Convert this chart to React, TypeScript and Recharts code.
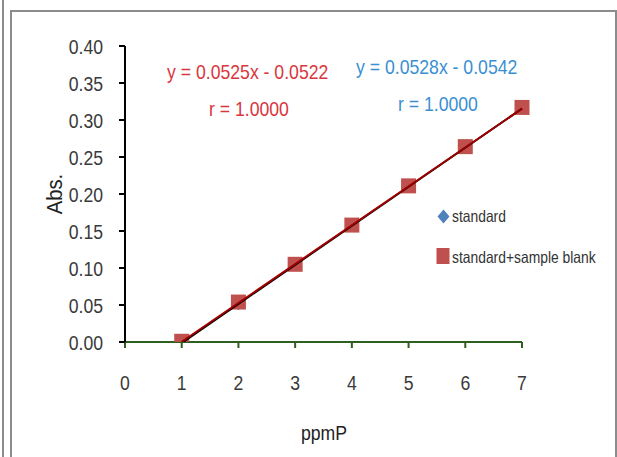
import { ScatterChart, Scatter, XAxis, YAxis } from "recharts";

const concentrations = [1, 2, 3, 4, 5, 6, 7];
const standardAbs = [0.0, 0.051, 0.104, 0.157, 0.21, 0.263, 0.315];
const blankAbs = [0.001, 0.054, 0.105, 0.158, 0.211, 0.264, 0.317];
const trendX = [1, 7];
const standardTrend = [-0.0014, 0.3154];
const blankTrend = [0.0003, 0.3153];
const xTicks = [0, 1, 2, 3, 4, 5, 6, 7];
const yTicks = [0, 0.05, 0.1, 0.15, 0.2, 0.25, 0.3, 0.35, 0.4];

const FONT = "'Liberation Sans', Arial, sans-serif";
const SQUEEZE = 0.84;

const toPoints = (xs: number[], ys: number[]) => xs.map((x, i) => ({ x, y: ys[i] }));

const Diamond = (props: any) => {
  const { cx, cy } = props;
  const r = 6;
  return <path d={`M${cx},${cy - r}L${cx + r},${cy}L${cx},${cy + r}L${cx - r},${cy}Z`} fill="#4f81bd" />;
};

const Square = (props: any) => {
  const { cx, cy } = props;
  return <rect x={cx - 7.5} y={cy - 7.5} width={15} height={15} fill="#c0504d" />;
};

const NoDot = () => null;

const XTick = (p: any) => (
  <text
    transform={`translate(${p.x},${p.y}) scale(${SQUEEZE},1)`}
    textAnchor="middle"
    dy="0.71em"
    fill="#3a3a3a"
    fontSize={21}
    fontFamily={FONT}
  >
    {p.payload.value}
  </text>
);

const YTick = (p: any) => (
  <text
    transform={`translate(${p.x},${p.y}) scale(${SQUEEZE},1)`}
    textAnchor="end"
    dy="0.36em"
    fill="#3a3a3a"
    fontSize={21}
    fontFamily={FONT}
  >
    {Number(p.payload.value).toFixed(2)}
  </text>
);

const txt = (color: string, size = 21): React.CSSProperties => ({
  position: "absolute",
  fontFamily: FONT,
  fontSize: size,
  color,
  whiteSpace: "nowrap",
  lineHeight: 1,
  transform: `scaleX(${SQUEEZE})`,
  transformOrigin: "left center",
});

export default function App() {
  return (
    <div style={{ position: "absolute", left: 0, top: 0, width: 617, height: 457, background: "#fff", overflow: "hidden" }}>
      <div style={{ position: "absolute", left: 2, top: 0, width: 2, height: 457, background: "#8c8c8c" }} />
      <div
        style={{
          position: "absolute",
          left: 10,
          top: 10,
          width: 603,
          height: 460,
          borderLeft: "2px solid #8c8c8c",
          borderTop: "2px solid #8c8c8c",
          borderRight: "2px solid #8c8c8c",
        }}
      />
      <div style={{ position: "absolute", left: 0, top: 0 }}>
        <ScatterChart width={617} height={457} margin={{ top: 46, right: 95, bottom: 55, left: 65 }}>
          <XAxis
            type="number"
            dataKey="x"
            domain={[0, 7]}
            ticks={xTicks}
            axisLine={{ stroke: "#2f5f1f", strokeWidth: 2 }}
            tickLine={{ stroke: "#2f5f1f", strokeWidth: 2 }}
            tickSize={6}
            tickMargin={27}
            height={60}
            tick={XTick}
          />
          <YAxis
            type="number"
            dataKey="y"
            domain={[0, 0.4]}
            ticks={yTicks}
            allowDataOverflow
            axisLine={{ stroke: "#000", strokeWidth: 2 }}
            tickLine={{ stroke: "#000", strokeWidth: 2 }}
            tickSize={6}
            tickMargin={16}
            width={60}
            tick={YTick}
          />
          <Scatter data={toPoints(concentrations, standardAbs)} shape={Diamond} isAnimationActive={false} />
          <Scatter data={toPoints(concentrations, blankAbs)} shape={Square} isAnimationActive={false} />
          <Scatter
            data={toPoints(trendX, standardTrend)}
            line={{ stroke: "#000", strokeWidth: 2 }}
            shape={NoDot}
            isAnimationActive={false}
          />
          <Scatter
            data={toPoints(trendX, blankTrend)}
            line={{ stroke: "#a00000", strokeWidth: 2 }}
            shape={NoDot}
            isAnimationActive={false}
          />
        </ScatterChart>
      </div>

      <div style={{ ...txt("#d9363e"), left: 167, top: 61 }}>y = 0.0525x - 0.0522</div>
      <div style={{ ...txt("#d9363e"), left: 209, top: 98 }}>r = 1.0000</div>
      <div style={{ ...txt("#3a8fd3"), left: 356, top: 56 }}>y = 0.0528x - 0.0542</div>
      <div style={{ ...txt("#3a8fd3"), left: 398, top: 93 }}>r = 1.0000</div>

      <div
        style={{
          position: "absolute",
          left: 55,
          top: 194,
          fontFamily: FONT,
          fontSize: 22,
          color: "#222",
          lineHeight: 1,
          whiteSpace: "nowrap",
          transform: "translate(-50%, -50%) rotate(-90deg) scaleX(0.92)",
        }}
      >
        Abs.
      </div>
      <div
        style={{
          position: "absolute",
          left: 324,
          top: 432,
          fontFamily: FONT,
          fontSize: 21,
          color: "#222",
          lineHeight: 1,
          whiteSpace: "nowrap",
          transform: `translate(-50%, -50%) scaleX(${SQUEEZE})`,
        }}
      >
        ppmP
      </div>

      <svg style={{ position: "absolute", left: 436, top: 205 }} width={16} height={60}>
        <path d="M7.5,4.5L13.5,11.5L7.5,18.5L1.5,11.5Z" fill="#4f81bd" />
        <rect x={0.5} y={43} width={13} height={16} fill="#c0504d" />
      </svg>
      <div style={{ ...txt("#333", 16.5), left: 452, top: 208 }}>standard</div>
      <div style={{ ...txt("#333", 16.5), left: 452, top: 249 }}>standard+sample blank</div>
    </div>
  );
}
